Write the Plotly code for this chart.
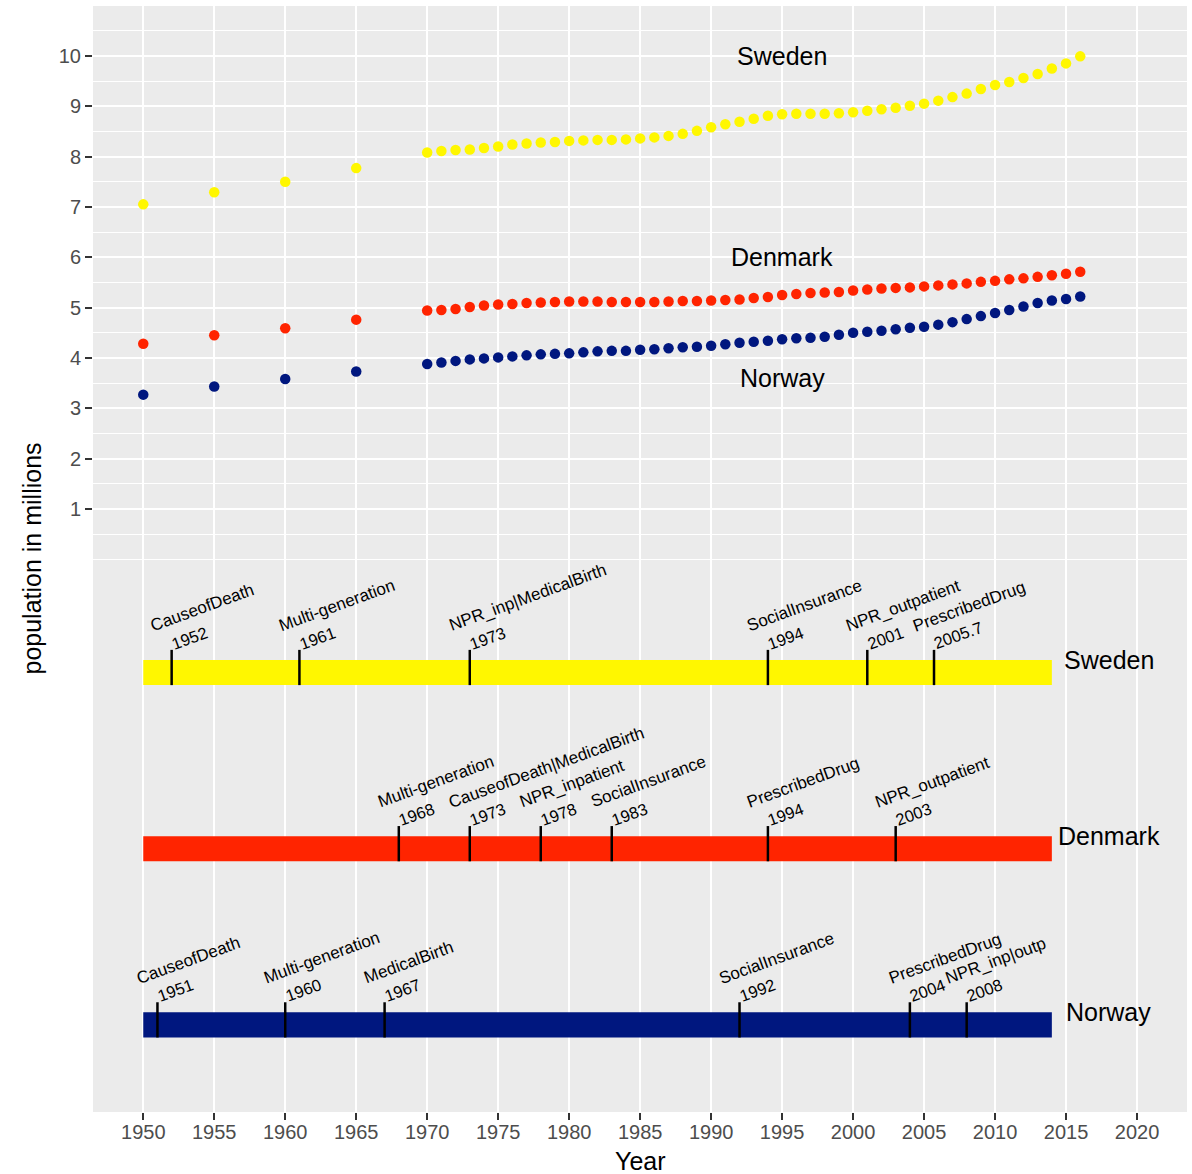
import plotly.graph_objects as go

# ---- population series (millions) ----
years = [1950, 1955, 1960, 1965,
         1970, 1971, 1972, 1973, 1974, 1975, 1976, 1977, 1978, 1979,
         1980, 1981, 1982, 1983, 1984, 1985, 1986, 1987, 1988, 1989,
         1990, 1991, 1992, 1993, 1994, 1995, 1996, 1997, 1998, 1999,
         2000, 2001, 2002, 2003, 2004, 2005, 2006, 2007, 2008, 2009,
         2010, 2011, 2012, 2013, 2014, 2015, 2016]

sweden = [7.05, 7.29, 7.50, 7.77,
          8.08, 8.11, 8.13, 8.14, 8.17, 8.20, 8.24, 8.26, 8.28, 8.29,
          8.31, 8.32, 8.33, 8.33, 8.34, 8.36, 8.38, 8.41, 8.45, 8.51,
          8.58, 8.64, 8.69, 8.75, 8.81, 8.84, 8.85, 8.85, 8.85, 8.86,
          8.88, 8.91, 8.94, 8.97, 9.01, 9.05, 9.11, 9.18, 9.25, 9.34,
          9.42, 9.48, 9.56, 9.64, 9.75, 9.85, 9.99]

denmark = [4.28, 4.45, 4.59, 4.76,
           4.94, 4.95, 4.97, 5.01, 5.04, 5.06, 5.07, 5.09, 5.10, 5.11,
           5.12, 5.12, 5.12, 5.11, 5.11, 5.11, 5.11, 5.12, 5.13, 5.13,
           5.14, 5.15, 5.16, 5.19, 5.21, 5.25, 5.27, 5.29, 5.30, 5.31,
           5.34, 5.36, 5.38, 5.39, 5.40, 5.42, 5.44, 5.46, 5.48, 5.51,
           5.53, 5.56, 5.58, 5.61, 5.64, 5.67, 5.71]

norway = [3.27, 3.43, 3.58, 3.73,
          3.88, 3.91, 3.94, 3.97, 3.99, 4.01, 4.03, 4.05, 4.07, 4.08,
          4.09, 4.11, 4.13, 4.14, 4.14, 4.16, 4.17, 4.19, 4.21, 4.22,
          4.24, 4.27, 4.30, 4.32, 4.34, 4.37, 4.39, 4.40, 4.42, 4.46,
          4.50, 4.52, 4.54, 4.57, 4.60, 4.62, 4.66, 4.71, 4.77, 4.83,
          4.89, 4.95, 5.02, 5.09, 5.14, 5.17, 5.22]

# ---- registry start years per country ----
sweden_reg_years = [1952, 1961, 1973, 1994, 2001, 2005.7]
sweden_reg_names = ["CauseofDeath", "Multi-generation", "NPR_inp|MedicalBirth",
                    "SocialInsurance", "NPR_outpatient", "PrescribedDrug"]

denmark_reg_years = [1968, 1973, 1978, 1983, 1994, 2003]
denmark_reg_names = ["Multi-generation", "CauseofDeath|MedicalBirth", "NPR_inpatient",
                     "SocialInsurance", "PrescribedDrug", "NPR_outpatient"]

norway_reg_years = [1951, 1960, 1967, 1992, 2004, 2008]
norway_reg_names = ["CauseofDeath", "Multi-generation", "MedicalBirth",
                    "SocialInsurance", "PrescribedDrug", "NPR_inp|outp"]

countries = ["Sweden", "Denmark", "Norway"]
series = {"Sweden": sweden, "Denmark": denmark, "Norway": norway}
registries = {
    "Sweden": (sweden_reg_years, sweden_reg_names),
    "Denmark": (denmark_reg_years, denmark_reg_names),
    "Norway": (norway_reg_years, norway_reg_names),
}

# country label positions in the upper (population) part
label_x = 1995
label_y = {"Sweden": 10.0, "Denmark": 6.0, "Norway": 3.6}

# timeline rows in the lower part
timeline_y = {"Sweden": -2.25, "Denmark": -5.75, "Norway": -9.25}
timeline_start = 1950
timeline_end = 2014
timeline_label_x = 2018

colors = {"Sweden": "#FFF700", "Denmark": "#FF2400", "Norway": "#00177F"}

FONT = "Liberation Sans, Arial, Helvetica, sans-serif"

fig = go.Figure()

# timeline bars
for c in countries:
    fig.add_trace(go.Bar(
        y=[timeline_y[c]], x=[timeline_end - timeline_start], base=[timeline_start],
        orientation="h", width=0.5, marker=dict(color=colors[c], line=dict(width=0)),
        showlegend=False, hoverinfo="skip",
    ))

# registry start ticks
for c in countries:
    ry, _ = registries[c]
    xs, ys = [], []
    for yr in ry:
        xs += [yr, yr, None]
        ys += [timeline_y[c] - 0.25, timeline_y[c] + 0.45, None]
    fig.add_trace(go.Scatter(x=xs, y=ys, mode="lines",
                             line=dict(color="black", width=2.5),
                             showlegend=False, hoverinfo="skip"))

# population points
for c in countries:
    fig.add_trace(go.Scatter(
        x=years, y=series[c], mode="markers", name=c,
        marker=dict(color=colors[c], size=10.5, line=dict(width=0)),
        showlegend=False,
    ))

annotations = []

# country names near the population series
for c in countries:
    annotations.append(dict(
        x=label_x, y=label_y[c], xref="x", yref="y", text=c, showarrow=False,
        xanchor="center", yanchor="middle", font=dict(family=FONT, size=25, color="black"),
    ))

# country names at the end of each timeline
for c in countries:
    annotations.append(dict(
        x=timeline_label_x, y=timeline_y[c] + 0.25, xref="x", yref="y", text=c,
        showarrow=False, xanchor="center", yanchor="middle",
        font=dict(family=FONT, size=25, color="black"),
    ))

# registry labels: year just above the tick, registry name above it
for c in countries:
    ry, rn = registries[c]
    top = timeline_y[c] + 0.45
    for yr, name in zip(ry, rn):
        annotations.append(dict(
            x=yr, y=top, xref="x", yref="y", text=f"{yr:g}", showarrow=False,
            textangle=-20, xanchor="left", yanchor="bottom", xshift=-5, yshift=-5,
            font=dict(family=FONT, size=16.5, color="black"),
        ))
        annotations.append(dict(
            x=yr, y=top, xref="x", yref="y", text=name, showarrow=False,
            textangle=-20, xanchor="left", yanchor="bottom", xshift=-26, yshift=12,
            font=dict(family=FONT, size=17, color="black"),
        ))

# axis titles
annotations.append(dict(
    x=0.5, y=-0.0439, xref="paper", yref="paper", text="Year", showarrow=False,
    xanchor="center", yanchor="middle", font=dict(family=FONT, size=25, color="black"),
))
annotations.append(dict(
    x=-0.0562, y=0.5, xref="paper", yref="paper", text="population in millions",
    showarrow=False, textangle=-90, xanchor="center", yanchor="middle",
    font=dict(family=FONT, size=25, color="black"),
))

x_ticks = [1950, 1955, 1960, 1965, 1970, 1975, 1980, 1985, 1990, 1995,
           2000, 2005, 2010, 2015, 2020]
y_ticks = [1, 2, 3, 4, 5, 6, 7, 8, 9, 10]
y_minor = [0, 0.5, 1.5, 2.5, 3.5, 4.5, 5.5, 6.5, 7.5, 8.5, 9.5, 10.5]

fig.update_layout(
    width=1192, height=1174,
    margin=dict(l=93, r=5, t=6, b=62),
    paper_bgcolor="white", plot_bgcolor="#EBEBEB",
    barmode="overlay", showlegend=False,
    annotations=annotations,
    font=dict(family=FONT),
    xaxis=dict(
        range=[1946.46, 2023.52], tickvals=x_ticks, ticktext=[str(t) for t in x_ticks],
        showgrid=True, gridcolor="white", gridwidth=2, zeroline=False, showline=False,
        ticks="outside", ticklen=7, tickwidth=1.7, tickcolor="#333333",
        ticklabelstandoff=-5,
        tickfont=dict(family=FONT, size=20, color="#4D4D4D"),
    ),
    yaxis=dict(
        range=[-10.98, 10.99], tickvals=y_ticks, ticktext=[str(t) for t in y_ticks],
        showgrid=True, gridcolor="white", gridwidth=2, zeroline=False, showline=False,
        ticks="outside", ticklen=7, tickwidth=1.7, tickcolor="#333333",
        tickfont=dict(family=FONT, size=20, color="#4D4D4D"),
        minor=dict(tickvals=y_minor, showgrid=True, gridcolor="white", gridwidth=1, ticks=""),
    ),
)

fig.write_html("out.html")
